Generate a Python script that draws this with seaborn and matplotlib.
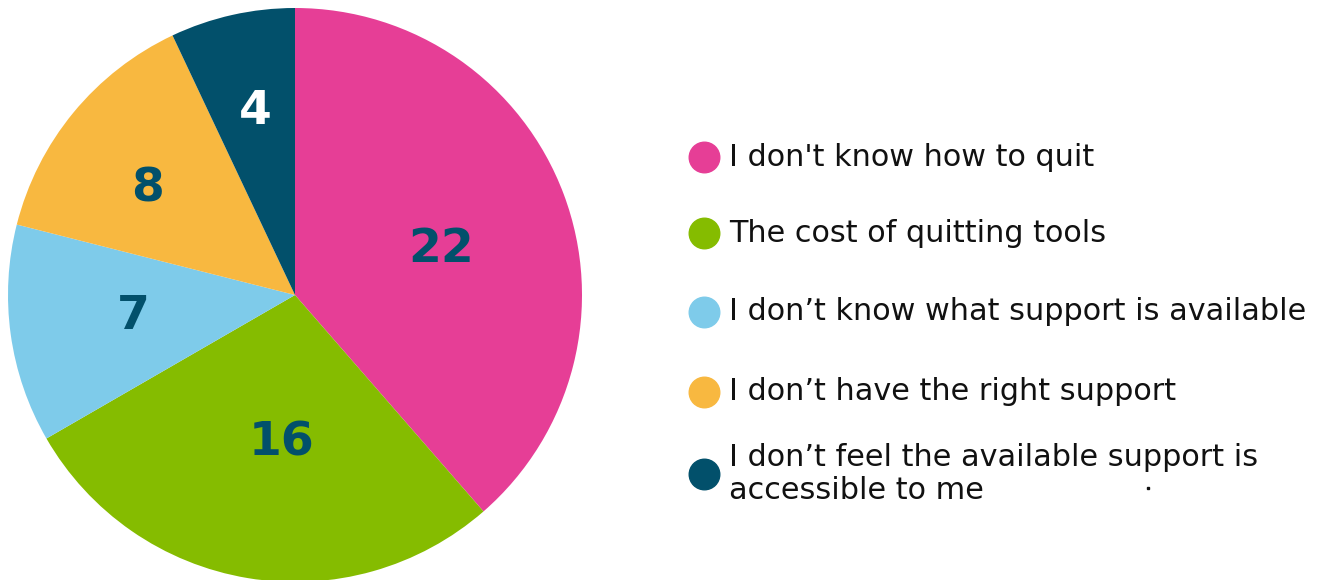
import numpy as np
import matplotlib
matplotlib.use("Agg")
import matplotlib.pyplot as plt
import seaborn as sns
from matplotlib.lines import Line2D

sns.set_theme(style="white")
plt.rcParams['font.family'] = ['DejaVu Sans']

categories = [
    "I don't know how to quit",
    "The cost of quitting tools",
    "I don\u2019t know what support is available",
    "I don\u2019t have the right support",
    "I don\u2019t feel the available support is\naccessible to me",
]
values = [22, 16, 7, 8, 4]
colors = ["#E63E96", "#85BC00", "#7ECBEA", "#F8B840", "#02506B"]
label_colors = ["#02506B", "#02506B", "#02506B", "#02506B", "#FFFFFF"]
label_radius = [0.537, 0.504, 0.567, 0.638, 0.666]
label_angle_shift = [-1.9, 4.2, -1.5, 2.9, -0.8]

W, H = 1333, 580
fig = plt.figure(figsize=(W / 100, H / 100), dpi=100)
fig.patch.set_facecolor("white")

# pie axes: center (295,295), radius 287 px
cx, cy, r = 295, 295, 287
ax = fig.add_axes([(cx - r) / W, (H - cy - r) / H, 2 * r / W, 2 * r / H])
wedges, _ = ax.pie(values, colors=colors, startangle=90, counterclock=False,
                   radius=1.0, wedgeprops=dict(linewidth=0))
ax.set_xlim(-1, 1)
ax.set_ylim(-1, 1)
ax.set_aspect("equal")
ax.axis("off")

for w, v, lc, rr, da in zip(wedges, values, label_colors, label_radius, label_angle_shift):
    ang = np.deg2rad((w.theta1 + w.theta2) / 2 + da)
    ax.annotate(str(v), (rr * np.cos(ang), rr * np.sin(ang)),
                xytext=(0, -2.5), textcoords="offset points",
                ha="center", va="center",
                fontsize=34, fontweight="bold", color=lc)

# legend built manually
y_pos = [157, 233, 312, 392, 474]
for lab, col, yp in zip(categories, colors, y_pos):
    fy = 1 - yp / H
    fig.add_artist(Line2D([704 / W], [fy], marker="o", markersize=22,
                          markerfacecolor=col, markeredgecolor=col,
                          linestyle="none", transform=fig.transFigure))
    fig.text(729 / W, fy, lab, ha="left", va="center", fontsize=21.8,
             color="#111111", linespacing=1.14)

# small stray dot present in the original image
fig.add_artist(Line2D([1148 / W], [1 - 488 / H], marker="s", markersize=1.6,
                      markerfacecolor="#111111", markeredgecolor="#111111",
                      linestyle="none", transform=fig.transFigure))

fig.savefig("out.png", dpi=100, facecolor="white")
